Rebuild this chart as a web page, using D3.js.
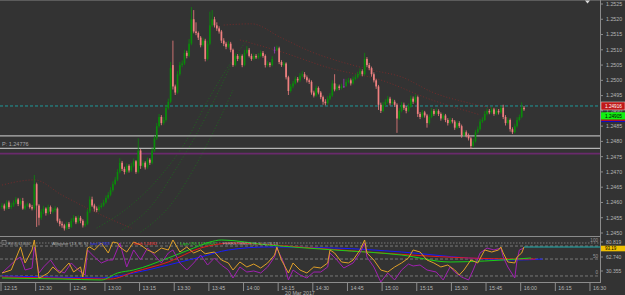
<!DOCTYPE html>
<html><head><meta charset="utf-8">
<script src="https://cdn.jsdelivr.net/npm/d3@7"></script>
<style>html,body{margin:0;padding:0;background:#333;overflow:hidden}svg{display:block}text{font-family:"Liberation Sans",Arial,sans-serif}</style>
</head><body>
<svg id="c" width="625" height="295"></svg>
<script>
// ---------- DATA (M1 candles, 20 Mar 2017, from 12:15) ----------
const close = [1.24590,1.24580,1.24600,1.24585,1.24590,1.24600,1.24610,1.24595,1.24605,1.24580,1.24590,1.24594,1.24585,1.24580,1.24660,1.24590,1.24550,1.24570,1.24580,1.24565,
1.24585,1.24570,1.24575,1.24580,1.24540,1.24530,1.24525,1.24515,1.24530,1.24520,1.24540,1.24550,1.24535,1.24550,1.24540,1.24525,1.24530,1.24570,1.24610,1.24590,
1.24580,1.24575,1.24585,1.24590,1.24600,1.24615,1.24625,1.24640,1.24660,1.24675,1.24700,1.24730,1.24710,1.24700,1.24720,1.24705,1.24720,1.24735,1.24700,1.24770,
1.24720,1.24730,1.24715,1.24740,1.24730,1.24770,1.24810,1.24850,1.24880,1.24860,1.24870,1.24910,1.24930,1.25040,1.24980,1.24960,1.25020,1.25050,1.25055,1.25090,
1.25080,1.25120,1.25200,1.25160,1.25155,1.25140,1.25115,1.25130,1.25070,1.25120,1.25180,1.25200,1.25180,1.25170,1.25160,1.25130,1.25120,1.25110,1.25120,1.25100,
1.25050,1.25080,1.25070,1.25080,1.25050,1.25090,1.25100,1.25080,1.25070,1.25080,1.25075,1.25080,1.25090,1.25080,1.25050,1.25055,1.25050,1.25070,1.25100,1.25105,
1.25060,1.25050,1.25055,1.25010,1.24965,1.24980,1.24990,1.25005,1.25000,1.25015,1.25020,1.25010,1.25000,1.24995,1.24960,1.24950,1.24975,1.24960,1.24945,1.24930,
1.24925,1.24940,1.24950,1.24990,1.24970,1.24980,1.24975,1.24980,1.24980,1.24995,1.25000,1.24990,1.25005,1.25010,1.25020,1.25030,1.25020,1.25070,1.25050,1.25040,
1.25020,1.25000,1.24980,1.24920,1.24900,1.24920,1.24930,1.24940,1.24925,1.24930,1.24920,1.24875,1.24900,1.24920,1.24910,1.24900,1.24915,1.24940,1.24930,1.24945,
1.24890,1.24880,1.24895,1.24885,1.24860,1.24880,1.24900,1.24890,1.24900,1.24890,1.24875,1.24885,1.24870,1.24860,1.24870,1.24865,1.24845,1.24860,1.24850,1.24820,
1.24830,1.24820,1.24810,1.24785,1.24800,1.24830,1.24840,1.24865,1.24870,1.24890,1.24900,1.24895,1.24905,1.24890,1.24900,1.24895,1.24910,1.24880,1.24860,1.24870,
1.24840,1.24830,1.24850,1.24870,1.24880,1.24910,1.24905];
const open = [1.24585,1.24590,1.24580,1.24600,1.24585,1.24590,1.24600,1.24610,1.24595,1.24605,1.24580,1.24590,1.24594,1.24585,1.24580,1.24660,1.24590,1.24550,1.24570,1.24580,
1.24565,1.24585,1.24570,1.24575,1.24580,1.24540,1.24530,1.24525,1.24515,1.24530,1.24520,1.24540,1.24550,1.24535,1.24550,1.24540,1.24525,1.24530,1.24570,1.24610,
1.24590,1.24580,1.24575,1.24585,1.24590,1.24600,1.24615,1.24625,1.24640,1.24660,1.24675,1.24700,1.24730,1.24710,1.24700,1.24720,1.24705,1.24720,1.24735,1.24700,
1.24770,1.24720,1.24730,1.24715,1.24740,1.24730,1.24770,1.24810,1.24850,1.24880,1.24860,1.24870,1.24910,1.24930,1.25050,1.24980,1.24960,1.25020,1.25050,1.25055,
1.25090,1.25080,1.25120,1.25200,1.25160,1.25155,1.25140,1.25115,1.25130,1.25070,1.25120,1.25180,1.25200,1.25180,1.25170,1.25160,1.25130,1.25120,1.25110,1.25120,
1.25100,1.25050,1.25080,1.25070,1.25080,1.25050,1.25090,1.25100,1.25080,1.25070,1.25080,1.25075,1.25080,1.25090,1.25080,1.25050,1.25055,1.25050,1.25100,1.25100,
1.25105,1.25060,1.25050,1.25055,1.25010,1.24965,1.24980,1.24990,1.25005,1.25000,1.25015,1.25020,1.25010,1.25000,1.24995,1.24960,1.24950,1.24975,1.24960,1.24945,
1.24930,1.24925,1.24940,1.24950,1.24990,1.24970,1.24980,1.24975,1.24980,1.24980,1.24995,1.25000,1.24990,1.25005,1.25010,1.25020,1.25030,1.25020,1.25070,1.25050,
1.25040,1.25020,1.25000,1.24980,1.24920,1.24900,1.24920,1.24930,1.24940,1.24925,1.24930,1.24920,1.24875,1.24900,1.24920,1.24910,1.24900,1.24915,1.24940,1.24930,
1.24945,1.24890,1.24880,1.24895,1.24885,1.24860,1.24880,1.24900,1.24890,1.24900,1.24890,1.24875,1.24885,1.24870,1.24860,1.24870,1.24865,1.24845,1.24860,1.24850,
1.24820,1.24830,1.24820,1.24810,1.24785,1.24800,1.24830,1.24840,1.24865,1.24870,1.24890,1.24900,1.24895,1.24905,1.24890,1.24900,1.24895,1.24910,1.24880,1.24860,
1.24870,1.24840,1.24830,1.24850,1.24870,1.24880,1.24910];
const high = [1.24598,1.24596,1.24608,1.24606,1.24599,1.24607,1.24618,1.24615,1.24613,1.24615,1.24597,1.24600,1.24598,1.24592,1.24690,1.24665,1.24595,1.24578,1.24589,1.24584,
1.24593,1.24590,1.24582,1.24588,1.24584,1.24547,1.24538,1.24530,1.24537,1.24536,1.24548,1.24559,1.24555,1.24558,1.24556,1.24545,1.24538,1.24578,1.24620,1.24619,
1.24596,1.24587,1.24592,1.24598,1.24609,1.24623,1.24634,1.24650,1.24669,1.24684,1.24709,1.24745,1.24736,1.24717,1.24728,1.24725,1.24729,1.24744,1.24739,1.24810,
1.24775,1.24738,1.24735,1.24747,1.24745,1.24778,1.24819,1.24860,1.24890,1.24886,1.24880,1.24920,1.24940,1.25060,1.25130,1.24986,1.25030,1.25060,1.25065,1.25100,
1.25097,1.25135,1.25240,1.25230,1.25190,1.25160,1.25145,1.25140,1.25136,1.25130,1.25225,1.25230,1.25208,1.25190,1.25177,1.25165,1.25138,1.25126,1.25129,1.25126,
1.25104,1.25089,1.25086,1.25088,1.25085,1.25100,1.25112,1.25106,1.25087,1.25088,1.25086,1.25089,1.25098,1.25096,1.25085,1.25063,1.25060,1.25079,1.25110,1.25114,
1.25110,1.25066,1.25062,1.25059,1.25015,1.24988,1.24998,1.25013,1.25011,1.25024,1.25030,1.25027,1.25016,1.25006,1.25000,1.24966,1.24983,1.24980,1.24965,1.24950,
1.24938,1.24948,1.24958,1.25000,1.25020,1.24988,1.24986,1.24989,1.25005,1.25004,1.25008,1.25006,1.25013,1.25019,1.25028,1.25039,1.25036,1.25090,1.25076,1.25057,
1.25045,1.25026,1.25005,1.24985,1.24927,1.24929,1.24938,1.24949,1.24946,1.24939,1.24936,1.24925,1.24909,1.24929,1.24927,1.24916,1.24924,1.24950,1.24947,1.24954,
1.24950,1.24896,1.24903,1.24900,1.24890,1.24888,1.24909,1.24906,1.24908,1.24905,1.24895,1.24893,1.24890,1.24876,1.24878,1.24876,1.24870,1.24868,1.24866,1.24855,
1.24838,1.24836,1.24826,1.24815,1.24808,1.24838,1.24849,1.24873,1.24879,1.24899,1.24908,1.24906,1.24913,1.24910,1.24908,1.24906,1.24917,1.24920,1.24886,1.24878,
1.24875,1.24846,1.24858,1.24879,1.24888,1.24928,1.24916];
const low = [1.24578,1.24573,1.24576,1.24579,1.24578,1.24585,1.24595,1.24588,1.24590,1.24576,1.24575,1.24586,1.24580,1.24574,1.24575,1.24520,1.24525,1.24543,1.24562,1.24557,
1.24560,1.24562,1.24564,1.24569,1.24534,1.24522,1.24517,1.24508,1.24510,1.24513,1.24516,1.24535,1.24529,1.24530,1.24532,1.24518,1.24520,1.24526,1.24565,1.24585,
1.24570,1.24568,1.24570,1.24580,1.24586,1.24596,1.24610,1.24620,1.24635,1.24656,1.24670,1.24695,1.24703,1.24692,1.24695,1.24698,1.24700,1.24715,1.24694,1.24695,
1.24710,1.24714,1.24708,1.24710,1.24723,1.24725,1.24765,1.24805,1.24845,1.24853,1.24854,1.24865,1.24904,1.24925,1.24970,1.24952,1.24956,1.25015,1.25043,1.25050,
1.25072,1.25075,1.25115,1.25154,1.25148,1.25132,1.25108,1.25110,1.25062,1.25065,1.25115,1.25174,1.25173,1.25162,1.25153,1.25122,1.25112,1.25102,1.25105,1.25092,
1.25044,1.25046,1.25063,1.25065,1.25043,1.25046,1.25085,1.25075,1.25064,1.25066,1.25070,1.25070,1.25076,1.25074,1.25042,1.25045,1.25043,1.25046,1.25088,1.25096,
1.25053,1.25044,1.25045,1.25003,1.24952,1.24960,1.24974,1.24986,1.24993,1.24995,1.25009,1.25004,1.24993,1.24988,1.24953,1.24944,1.24946,1.24954,1.24938,1.24920,
1.24918,1.24920,1.24935,1.24946,1.24964,1.24965,1.24968,1.24970,1.24975,1.24986,1.24990,1.24983,1.24986,1.25000,1.25006,1.25015,1.25013,1.25016,1.25043,1.25033,
1.25012,1.24993,1.24972,1.24903,1.24893,1.24896,1.24915,1.24924,1.24918,1.24920,1.24913,1.24828,1.24870,1.24895,1.24903,1.24892,1.24896,1.24910,1.24923,1.24926,
1.24880,1.24873,1.24876,1.24878,1.24845,1.24855,1.24876,1.24884,1.24886,1.24883,1.24868,1.24870,1.24863,1.24852,1.24856,1.24859,1.24838,1.24840,1.24844,1.24812,
1.24815,1.24813,1.24803,1.24775,1.24780,1.24796,1.24825,1.24836,1.24860,1.24866,1.24885,1.24889,1.24890,1.24884,1.24886,1.24888,1.24890,1.24873,1.24852,1.24855,
1.24832,1.24824,1.24826,1.24845,1.24865,1.24876,1.24900];

const priceTicks = [1.2450,1.2455,1.2460,1.2465,1.2470,1.2475,1.2480,1.2485,1.2490,1.2495,1.2500,1.2505,1.2510,1.2515,1.2520,1.2525];
const timeLabels = ["12:15","12:30","12:45","13:00","13:15","13:30","13:45","14:00","14:15","14:30","14:45","15:00","15:15","15:30","15:45","16:00","16:15","16:30"];
const dateLabel = "20 Mar 2017";
const hLines = {dashed: 1.24916, gray1: 1.24818, pivot: 1.24777, purple: 1.24760};
const pivotLabel = "P: 1.24776";
const askLabel = "1.24916", bidLabel = "1.24905";

// faint dotted overlay curves in main chart: [barIndex, price]
const greenDot1 = [[41,1.24516],[56,1.24592],[69,1.2469],[80,1.24805],[88,1.24919],[97,1.25034],[106,1.25132]];
const greenDot2 = [[52,1.2451],[65,1.24592],[75,1.24706],[84,1.24821],[93,1.24952],[101,1.25083]];
const greenDot3 = [[60,1.24503],[73,1.24592],[84,1.24723],[93,1.24854],[100,1.24968]];
const redDot1 = [[96,1.25181],[108,1.25185],[121,1.25139],[134,1.25093],[147,1.2506],[160,1.25034],[173,1.25011],[187,1.24959],[202,1.24926],[216,1.24903]];
const redDot2 = [[103,1.25132],[121,1.25093],[142,1.2504],[164,1.25001],[186,1.24936],[207,1.24887]];
const redDot3 = [[0,1.24657],[14,1.24674],[26,1.24624],[43,1.24559],[56,1.24516]];

// lower window: oscillators [barIndex, value]
const rsiOrange = [[0,26.9],[4,32.7],[8,76.9],[10,46.2],[13,71.2],[14,90.4],[16,17.3],[17,19.2],[20,26.9],[22,38.5],[25,26.9],[29,46.2],[31,28.8],[34,38.5],[35,19.2],[37,75],[38,76.9],[40,71.2],[43,84.6],[46,65.4],[48,86.5],[50,84.6],[51,76.9],[54,67.3],[57,86.5],[60,80.8],[63,71.2],[66,65.4],[69,75],[72,71.2],[74,90.4],[77,67.3],[80,76.9],[83,65.4],[86,71.2],[88,64],[92,67.3],[95,51.9],[98,46.2],[100,32.7],[103,48.1],[106,38.5],[109,44.2],[112,36.5],[115,46.2],[118,61.5],[119,76.9],[121,51.9],[124,26.9],[126,46.2],[129,32.7],[132,26.9],[135,38.5],[138,36.5],[141,46.2],[142,71.2],[144,65.4],[147,48.1],[150,46.2],[152,51.9],[155,71.2],[157,90.4],[158,65.4],[161,51.9],[164,32.7],[167,28.8],[170,38.5],[173,46.2],[176,55.8],[178,71.2],[181,67.3],[184,51.9],[187,46.2],[190,38.5],[193,42.3],[196,32.7],[198,23.1],[200,32.7],[203,51.9],[206,46.2],[209,71.2],[212,67.3],[215,71.2],[216,76.9],[217,65.4],[219,48.1],[222,46.2],[223,57.7],[225,65.4],[226,76.9]];
const rsiPurple = [[0,26.9],[6,51.9],[8,57.7],[10,32.7],[13,36.5],[14,76.9],[16,26.9],[18,38.5],[21,51.9],[24,32.7],[27,26.9],[30,46.2],[33,32.7],[36,23.1],[37,71.2],[40,57.7],[43,46.2],[46,51.9],[48,51.9],[51,84.6],[54,38.5],[57,71.2],[60,51.9],[63,75],[66,61.5],[69,46.2],[72,65.4],[74,71.2],[77,46.2],[80,32.7],[83,46.2],[86,61.5],[89,42.3],[92,55.8],[95,42.3],[98,32.7],[100,17.3],[103,38.5],[106,28.8],[109,30.8],[112,26.9],[115,38.5],[118,57.7],[119,75],[122,46.2],[124,13.5],[126,32.7],[129,23.1],[132,17.3],[135,28.8],[138,28.8],[141,38.5],[142,65.4],[145,51.9],[148,36.5],[152,46.2],[155,65.4],[157,84.6],[158,57.7],[161,38.5],[164,9.6],[167,26.9],[170,13.5],[173,32.7],[176,44.2],[178,40.4],[181,42.3],[184,32.7],[188,28.8],[191,13.5],[194,38.5],[196,28.8],[199,19.2],[202,13.5],[204,32.7],[207,65.4],[210,75],[213,71.2],[216,75],[217,57.7],[219,38.5],[222,17.3],[223,51.9],[224,71.2],[226,75]];
// Alligator lines (shifted forward, so they run past the last bar)
const jawsBlue = [[0,21.2],[21,19.2],[43,17.3],[57,26.9],[72,42.3],[86,57.7],[98,71.2],[115,76.9],[144,75],[173,67.3],[202,55.8],[223,51.9],[234,53.8]];
const teethRed = [[0,19.2],[21,17.3],[47,15.4],[57,28.8],[72,48.1],[86,75],[100,84.6],[129,76.9],[158,67.3],[177,61.5],[202,55.8],[222,53.8],[231,53.8]];
const lipsGreen = [[0,17.3],[26,15.4],[43,13.5],[50,26.9],[57,32.7],[72,55.8],[83,75],[90,86.5],[95,90.4],[115,80.8],[144,71.2],[173,61.5],[194,48.1],[209,50],[229,55.8]];
const levelValues = [84.6, 78.8, 53.8, 21.2];
const levelCaptions = [{v:84.6,t:"100"},{v:53.8,t:"50"},{v:21.2,t:"0"}];
const subAxisLabels = [80.819, 62.740, 30.355];
const subCurrent = "93.19";
const legendParts = [
  {t:"RSI (6) 41.8404", c:"#b0b0b0", w:22},
  {t:"Alligator (13, 8, 5)", c:"#b0b0b0", w:36},
  {t:"Jaws 53.7821", c:"#3030ff", w:20},
  {t:"Teeth 1.24911", c:"#ff2a2a", w:24},
  {t:"Lips (5) 1.24907", c:"#20d020", w:36},
  {t:"FERRSTMMDS (9, 3, 0) 76.13", c:"#b0b0b0", w:55}
];
const legendX = [8, 52, 90, 133, 180, 223];

// ---------- DRAW ----------
const W = 625, H = 295;
const svg = d3.select("#c");
svg.append("rect").attr("width", W).attr("height", H).attr("fill", "#333333");
svg.append("line").attr("x1",0).attr("x2",W).attr("y1",0.5).attr("y2",0.5).attr("stroke","#5c5c5c");

const n = close.length;
const x = d3.scaleLinear().domain([0, n - 1]).range([2, 524]);
const y = d3.scaleLinear().domain([1.2450, 1.2525]).range([233, 4.0]);
const r = d3.scaleLinear().domain([0, 100]).range([287, 235]);

const defs = svg.append("defs");
defs.append("clipPath").attr("id","mainClip").append("rect").attr("x",0).attr("y",1).attr("width",600).attr("height",235);
defs.append("clipPath").attr("id","subClip").append("rect").attr("x",0).attr("y",237).attr("width",600).attr("height",45);

const main = svg.append("g").attr("clip-path","url(#mainClip)");

// dotted overlays
const dline = d3.line().x(d => x(d[0])).y(d => y(d[1])).curve(d3.curveMonotoneX);
[[greenDot1,"#1d6a1d"],[greenDot2,"#1d6a1d"],[greenDot3,"#1d6a1d"],[redDot1,"#7a2a2a"],[redDot2,"#7a2a2a"],[redDot3,"#7a2a2a"]].forEach(([d,c]) => {
  main.append("path").attr("d", dline(d)).attr("fill","none").attr("stroke",c).attr("stroke-width",0.9).attr("stroke-dasharray","1,2");
});

// horizontal lines
main.append("line").attr("x1",0).attr("x2",600).attr("y1",y(hLines.dashed)).attr("y2",y(hLines.dashed))
  .attr("stroke","#1f9a9a").attr("stroke-width",1).attr("stroke-dasharray","3,2");
main.append("line").attr("x1",0).attr("x2",600).attr("y1",y(hLines.gray1)).attr("y2",y(hLines.gray1)).attr("stroke","#b5b5b5").attr("stroke-width",1.2);
main.append("line").attr("x1",0).attr("x2",600).attr("y1",y(hLines.pivot)).attr("y2",y(hLines.pivot)).attr("stroke","#b5b5b5").attr("stroke-width",1.2);
main.append("line").attr("x1",0).attr("x2",600).attr("y1",y(hLines.purple)).attr("y2",y(hLines.purple)).attr("stroke","#6a2a6c").attr("stroke-width",1.6);
main.append("text").attr("x",2).attr("y",y(hLines.pivot)-2.5).attr("fill","#a8a8a8").attr("font-size",5.5).text(pivotLabel);

// candles
const idx = d3.range(n);
const col = i => close[i] > open[i] ? "#0a8a0a" : (close[i] < open[i] ? "#f08080" : "#a040c0");
main.selectAll("line.wick").data(idx).join("line").attr("class","wick")
  .attr("x1", i => x(i)).attr("x2", i => x(i))
  .attr("y1", i => y(high[i])).attr("y2", i => y(low[i]))
  .attr("stroke", col).attr("stroke-width", 0.8);
main.selectAll("rect.body").data(idx).join("rect").attr("class","body")
  .attr("x", i => x(i) - 0.85).attr("width", 1.7)
  .attr("y", i => y(Math.max(open[i], close[i])))
  .attr("height", i => Math.max(0.7, Math.abs(y(open[i]) - y(close[i]))))
  .attr("fill", col);

// right price axis
svg.append("line").attr("x1",600.5).attr("x2",600.5).attr("y1",0).attr("y2",283).attr("stroke","#8c8c8c");
const ax = svg.append("g");
ax.selectAll("line").data(priceTicks).join("line")
  .attr("x1",600).attr("x2",603).attr("y1",d=>y(d)).attr("y2",d=>y(d)).attr("stroke","#8c8c8c");
ax.selectAll("text").data(priceTicks).join("text")
  .attr("x",606).attr("y",d=>y(d)).attr("dy","0.35em").attr("fill","#b4b4b4").attr("font-size",5.3)
  .text(d=>d3.format(".4f")(d));
// price boxes
const askY = y(+askLabel);
svg.append("rect").attr("x",601).attr("y",askY-4).attr("width",24).attr("height",8).attr("fill","#c01818").attr("stroke","#e8e8e8").attr("stroke-width",0.5);
svg.append("text").attr("x",605).attr("y",askY).attr("dy","0.33em").attr("fill","#ffffff").attr("font-size",4.7).text(askLabel);
const bidY = askY + 10;
svg.append("rect").attr("x",601).attr("y",bidY-3.7).attr("width",24).attr("height",7.4).attr("fill","#10f010");
svg.append("text").attr("x",605).attr("y",bidY).attr("dy","0.33em").attr("fill","#000000").attr("font-size",4.7).text(bidLabel);
svg.append("rect").attr("x",601).attr("y",bidY+3.7).attr("width",24).attr("height",1.2).attr("fill","#e01010");
svg.append("rect").attr("x",601).attr("y",bidY+4.9).attr("width",24).attr("height",1.2).attr("fill","#1010c0");

// shift marker at top
svg.append("path").attr("d", d3.line()([[585,0.5],[590,0.5],[587.5,3.5]])+"Z").attr("fill","#d8d8d8");

// ---------- lower window ----------
svg.append("line").attr("x1",0).attr("x2",600).attr("y1",236.5).attr("y2",236.5).attr("stroke","#8c8c8c");
svg.append("line").attr("x1",0).attr("x2",600).attr("y1",282.5).attr("y2",282.5).attr("stroke","#8c8c8c");
const sub = svg.append("g").attr("clip-path","url(#subClip)");
sub.selectAll("line.lvl").data(levelValues).join("line").attr("class","lvl")
  .attr("x1",0).attr("x2",600).attr("y1",d=>r(d)).attr("y2",d=>r(d))
  .attr("stroke","#8a8a8a").attr("stroke-width",0.8).attr("stroke-dasharray",(d,i)=> i===0 ? "1.5,1.5" : "3,2");
const sline = d3.line().x(d=>x(d[0])).y(d=>r(d[1]));
const sCurve = d3.line().x(d=>x(d[0])).y(d=>r(d[1])).curve(d3.curveMonotoneX);
sub.append("path").attr("d",sCurve(jawsBlue)).attr("fill","none").attr("stroke","#1818ff").attr("stroke-width",1);
sub.append("path").attr("d",sCurve(teethRed)).attr("fill","none").attr("stroke","#e81818").attr("stroke-width",1);
sub.append("path").attr("d",sCurve(lipsGreen)).attr("fill","none").attr("stroke","#18d018").attr("stroke-width",1);
sub.append("path").attr("d",sline(rsiPurple)).attr("fill","none").attr("stroke","#a020b0").attr("stroke-width",1);
sub.append("path").attr("d",sline(rsiOrange)).attr("fill","none").attr("stroke","#e0a028").attr("stroke-width",1);
const lastO = rsiOrange[rsiOrange.length-1];
sub.append("line").attr("x1",x(lastO[0])).attr("x2",600).attr("y1",r(lastO[1])).attr("y2",r(lastO[1])).attr("stroke","#20b0b0").attr("stroke-width",1);
// level captions
sub.selectAll("text.lc").data(levelCaptions).join("text").attr("class","lc")
  .attr("x",598).attr("text-anchor","end").attr("y",d=>r(d.v)-1.5).attr("fill","#9a9a9a").attr("font-size",4.6).text(d=>d.t);
// legend
sub.append("rect").attr("x",2).attr("y",240.5).attr("width",4).attr("height",4).attr("fill","none").attr("stroke","#9a9a9a").attr("stroke-width",0.6);
sub.selectAll("text.lg").data(legendParts).join("text").attr("class","lg")
  .attr("x",(d,i)=>legendX[i]).attr("y",244.5).attr("fill",d=>d.c).attr("font-size",4.4)
  .attr("textLength",d=>d.w).attr("lengthAdjust","spacingAndGlyphs").text(d=>d.t);
// sub axis labels (the window's own scale, uneven spacing as drawn)
const ra = d3.scaleLinear().domain([30.355, 62.740, 80.819]).range([271, 257, 242]);
svg.selectAll("text.sa").data(subAxisLabels).join("text").attr("class","sa")
  .attr("x",606).attr("y",d=>ra(d)).attr("dy","0.35em").attr("fill","#b4b4b4").attr("font-size",5).text(d=>d3.format(".3f")(d));
svg.selectAll("line.sat").data(subAxisLabels).join("line").attr("class","sat")
  .attr("x1",600).attr("x2",603).attr("y1",d=>ra(d)).attr("y2",d=>ra(d)).attr("stroke","#8c8c8c");
const cy = r(lastO[1]) + 1.5;
svg.append("rect").attr("x",601).attr("y",cy-2.8).attr("width",24).attr("height",5.6).attr("fill","#f0c000");
svg.append("text").attr("x",605).attr("y",cy).attr("dy","0.33em").attr("fill","#000").attr("font-size",4.5).text(subCurrent);

// ---------- time axis ----------
const tg = svg.append("g");
tg.selectAll("line").data(timeLabels).join("line")
  .attr("x1",(d,i)=>x(i*15)-1).attr("x2",(d,i)=>x(i*15)-1).attr("y1",283).attr("y2",291).attr("stroke","#8c8c8c");
tg.selectAll("text").data(timeLabels).join("text")
  .attr("x",(d,i)=>x(i*15)+2).attr("y",289.5).attr("fill","#b4b4b4").attr("font-size",5.3).text(d=>d);
svg.append("text").attr("x",x(129)).attr("y",295).attr("text-anchor","middle").attr("fill","#b4b4b4").attr("font-size",5.3).text(dateLabel);
</script>
</body></html>
